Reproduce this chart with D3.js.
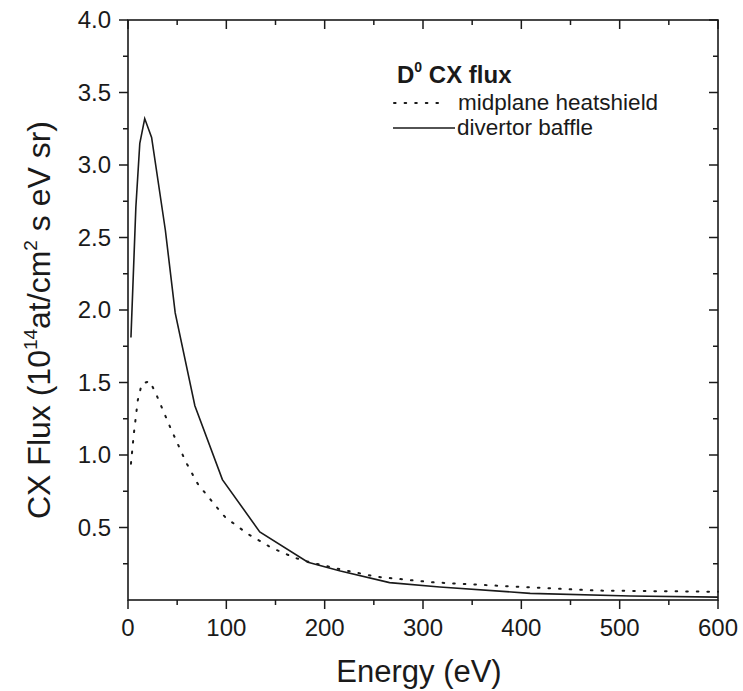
<!DOCTYPE html>
<html><head><meta charset="utf-8">
<script src="https://cdn.jsdelivr.net/npm/d3@7"></script>
<style>body{margin:0;background:#fff}svg{display:block}text{font-family:"Liberation Sans",Arial,sans-serif;fill:#1a1a1a}</style>
</head><body><svg id="c" width="743" height="691"></svg>
<script>
const baffleE = [3,8,12,17,24,38,48,68,96,134,183,216,266,317,409,511,600];
const baffleV = [1.81,2.71,3.15,3.32,3.19,2.55,1.98,1.34,0.83,0.47,0.26,0.2,0.12,0.09,0.046,0.028,0.02];
const heatE = [3,6,10,14,22,28,33,43,59,71,89,99,122,146,170,185,217,253,310,400,477,600];
const heatV = [0.94,1.15,1.38,1.49,1.51,1.43,1.35,1.19,0.95,0.80,0.65,0.57,0.455,0.36,0.29,0.26,0.21,0.16,0.122,0.09,0.065,0.057];
const xTicks = [0,100,200,300,400,500,600];
const yTicks = [0.5,1.0,1.5,2.0,2.5,3.0,3.5,4.0];
const seriesNames = ["midplane heatshield","divertor baffle"];

const svg = d3.select("#c");
const L=128,R=718,T=20,B=600;
const x = d3.scaleLinear().domain([0,600]).range([L,R]);
const y = d3.scaleLinear().domain([0,4]).range([B,T]);
const ink="#1a1a1a";

const g = svg.append("g");
g.append("rect").attr("x",L).attr("y",T).attr("width",R-L).attr("height",B-T).attr("fill","none").attr("stroke",ink).attr("stroke-width",1.6);

const xMinor = d3.range(50,600,100);
const yMinor = d3.range(0.25,4,0.5);
function tickLines(sel, data, fn){ sel.selectAll(null).data(data).enter().append("line").each(fn).attr("stroke",ink).attr("stroke-width",1.5); }
tickLines(g, xTicks, function(d){d3.select(this).attr("x1",x(d)).attr("x2",x(d)).attr("y1",B).attr("y2",B+9);});
tickLines(g, xMinor, function(d){d3.select(this).attr("x1",x(d)).attr("x2",x(d)).attr("y1",B).attr("y2",B+5);});
tickLines(g, xTicks, function(d){d3.select(this).attr("x1",x(d)).attr("x2",x(d)).attr("y1",T).attr("y2",T+9);});
tickLines(g, xMinor, function(d){d3.select(this).attr("x1",x(d)).attr("x2",x(d)).attr("y1",T).attr("y2",T+5);});
tickLines(g, yTicks, function(d){d3.select(this).attr("x1",L-9).attr("x2",L).attr("y1",y(d)).attr("y2",y(d));});
tickLines(g, yMinor, function(d){d3.select(this).attr("x1",L-5).attr("x2",L).attr("y1",y(d)).attr("y2",y(d));});
tickLines(g, yTicks, function(d){d3.select(this).attr("x1",R-9).attr("x2",R).attr("y1",y(d)).attr("y2",y(d));});
tickLines(g, yMinor, function(d){d3.select(this).attr("x1",R-5).attr("x2",R).attr("y1",y(d)).attr("y2",y(d));});

g.selectAll(null).data(xTicks).enter().append("text").attr("x",d=>x(d)).attr("y",B+36).attr("text-anchor","middle").attr("font-size",24).text(d=>d);
g.selectAll(null).data(yTicks).enter().append("text").attr("x",L-17).attr("y",d=>y(d)+8).attr("text-anchor","end").attr("font-size",24).text(d=>d.toFixed(1));

svg.append("text").attr("x",419).attr("y",682).attr("text-anchor","middle").attr("font-size",31).text("Energy (eV)");
const yt = svg.append("text").attr("transform","translate(50,320) rotate(-90)").attr("text-anchor","middle").attr("font-size",32);
yt.append("tspan").text("CX Flux (10");
yt.append("tspan").attr("font-size",19).attr("dy",-13).text("14");
yt.append("tspan").attr("dy",13).text("at/cm");
yt.append("tspan").attr("font-size",19).attr("dy",-13).text("2");
yt.append("tspan").attr("dy",13).text(" s eV sr)");

const line = d3.line().x(d=>x(d[0])).y(d=>y(d[1]));
const heat = heatE.map((e,i)=>[e,heatV[i]]);
const baffle = baffleE.map((e,i)=>[e,baffleV[i]]);
svg.append("path").attr("d",line(heat)).attr("fill","none").attr("stroke",ink).attr("stroke-width",2).attr("stroke-dasharray","1.6,9").attr("stroke-linecap","round");
svg.append("path").attr("d",line(baffle)).attr("fill","none").attr("stroke",ink).attr("stroke-width",1.6);

const lt = svg.append("text").attr("x",397).attr("y",83).attr("font-size",24).attr("font-weight","bold").attr("fill","#333");
lt.append("tspan").text("D");
lt.append("tspan").attr("font-size",14).attr("dy",-11).text("0");
lt.append("tspan").attr("dy",11).text(" CX flux");
svg.append("line").attr("x1",394).attr("x2",445).attr("y1",103).attr("y2",103).attr("stroke",ink).attr("stroke-width",2).attr("stroke-dasharray","1.6,9").attr("stroke-linecap","round");
svg.append("line").attr("x1",393).attr("x2",455).attr("y1",128).attr("y2",128).attr("stroke",ink).attr("stroke-width",1.4);
svg.append("text").attr("x",458).attr("y",110).attr("font-size",22.5).text(seriesNames[0]);
svg.append("text").attr("x",457).attr("y",135).attr("font-size",22.5).text(seriesNames[1]);
</script></body></html>
